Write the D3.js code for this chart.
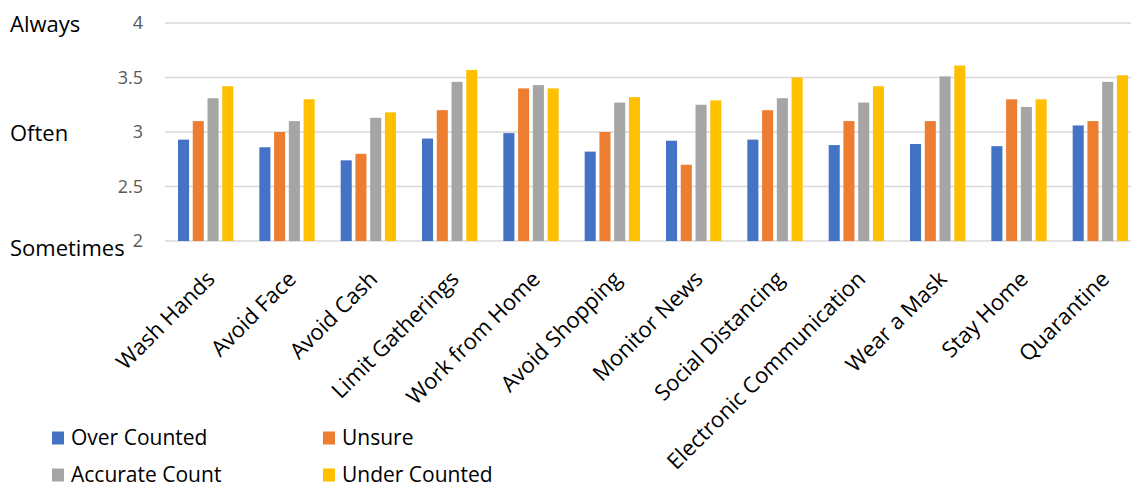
<!DOCTYPE html>
<html>
<head>
<meta charset="utf-8">
<script src="https://cdn.jsdelivr.net/npm/d3@7"></script>
<style>
  body { margin: 0; background: white; }
  svg { display: block; font-family: "Open Sans", sans-serif; }
</style>
</head>
<body>
<div id="chart"></div>
<script>
const categories = ["Wash Hands", "Avoid Face", "Avoid Cash", "Limit Gatherings", "Work from Home",
  "Avoid Shopping", "Monitor News", "Social Distancing", "Electronic Communication",
  "Wear a Mask", "Stay Home", "Quarantine"];
const seriesNames = ["Over Counted", "Unsure", "Accurate Count", "Under Counted"];
const seriesColors = ["#4472c4", "#ed7d31", "#a5a5a5", "#ffc000"];

const overCounted   = [2.93, 2.86, 2.74, 2.94, 2.99, 2.82, 2.92, 2.93, 2.88, 2.89, 2.87, 3.06];
const unsure        = [3.10, 3.00, 2.80, 3.20, 3.40, 3.00, 2.70, 3.20, 3.10, 3.10, 3.30, 3.10];
const accurateCount = [3.31, 3.10, 3.13, 3.46, 3.43, 3.27, 3.25, 3.31, 3.27, 3.51, 3.23, 3.46];
const underCounted  = [3.42, 3.30, 3.18, 3.57, 3.40, 3.32, 3.29, 3.50, 3.42, 3.61, 3.30, 3.52];

const yTicks = [2, 2.5, 3, 3.5, 4];
const yTickLabels = ["2", "2.5", "3", "3.5", "4"];
const levelLabels = [[4, "Always"], [3, "Often"], [2, "Sometimes"]];

const seriesValues = [overCounted, unsure, accurateCount, underCounted];
const data = categories.map((c, i) => ({
  category: c,
  values: seriesNames.map((s, j) => ({ series: s, value: seriesValues[j][i] }))
}));

const width = 1131, height = 488;
// the plot area runs a little past the right edge of the picture (cropped like the original)
const plotLeft = 165, plotRight = 1141, plotTop = 23, plotBottom = 241;

const svg = d3.select("#chart").append("svg")
  .attr("width", width)
  .attr("height", height);

const x = d3.scaleBand()
  .domain(categories)
  .range([plotLeft, plotRight])
  .paddingInner(0.32)
  .paddingOuter(0.16);

const xs = d3.scaleBand()
  .domain(seriesNames)
  .range([0, x.bandwidth()])
  .paddingInner(0.25);

const y = d3.scaleLinear()
  .domain([2, 4])
  .range([plotBottom, plotTop]);

const color = d3.scaleOrdinal().domain(seriesNames).range(seriesColors);

// gridlines
svg.append("g")
  .selectAll("line")
  .data(yTicks)
  .join("line")
  .attr("x1", plotLeft)
  .attr("x2", width)
  .attr("y1", d => y(d))
  .attr("y2", d => y(d))
  .attr("stroke", "#d9d9d9")
  .attr("stroke-width", 1.5);

// y tick labels
svg.append("g")
  .selectAll("text")
  .data(yTicks)
  .join("text")
  .attr("x", 143)
  .attr("y", d => y(d))
  .attr("dy", "0.35em")
  .attr("text-anchor", "end")
  .attr("fill", "#595959")
  .style("font-size", "18px")
  .text((d, i) => yTickLabels[i]);

// level labels (Always / Often / Sometimes)
svg.append("g")
  .selectAll("text")
  .data(levelLabels)
  .join("text")
  .attr("x", 10)
  .attr("y", d => y(d[0]) + (d[0] === 2 ? 7 : 1))
  .attr("dy", "0.35em")
  .attr("fill", "#000")
  .style("font-size", "22px")
  .text(d => d[1]);

// bars
const groups = svg.append("g")
  .selectAll("g")
  .data(data)
  .join("g")
  .attr("transform", d => `translate(${x(d.category)},0)`);

groups.selectAll("rect")
  .data(d => d.values)
  .join("rect")
  .attr("x", d => xs(d.series))
  .attr("width", xs.bandwidth())
  .attr("y", d => y(d.value))
  .attr("height", d => y(2) - y(d.value))
  .attr("fill", d => color(d.series));

// category labels
svg.append("g")
  .selectAll("text")
  .data(categories)
  .join("text")
  .attr("transform", d => `translate(${x(d) + x.bandwidth() / 2 + 5},${plotBottom + 34}) rotate(-45)`)
  .attr("text-anchor", "end")
  .attr("dy", "0.35em")
  .attr("fill", "#000")
  .style("font-size", "22px")
  .text(d => d);

// legend
const legendPos = [[52, 438], [323, 438], [52, 475], [323, 475]];
const legend = svg.append("g")
  .selectAll("g")
  .data(seriesNames)
  .join("g")
  .attr("transform", (d, i) => `translate(${legendPos[i][0]},${legendPos[i][1]})`);

legend.append("rect")
  .attr("x", 0)
  .attr("y", -6.5)
  .attr("width", 12)
  .attr("height", 13)
  .attr("fill", d => color(d));

legend.append("text")
  .attr("x", 19)
  .attr("y", 0)
  .attr("dy", "0.35em")
  .attr("fill", "#000")
  .style("font-size", "21px")
  .text(d => d);
</script>
</body>
</html>
